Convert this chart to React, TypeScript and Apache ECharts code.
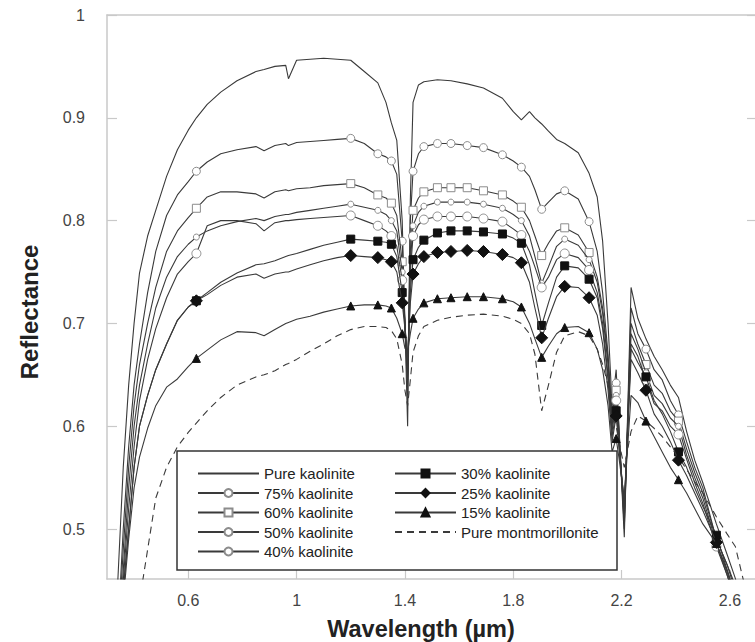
import React, { useEffect, useRef } from "react";
import * as echarts from "echarts";

// Wavelength grid (µm) shared by all spectra
const WAVELENGTHS = [
  0.34, 0.36, 0.38, 0.40, 0.42, 0.45, 0.48, 0.52, 0.56, 0.60,
  0.63, 0.67, 0.72, 0.78, 0.85, 0.88, 0.92, 0.96, 0.97, 1.0,
  1.05, 1.1, 1.15, 1.2, 1.25, 1.3, 1.33, 1.35, 1.37, 1.39,
  1.40, 1.41, 1.42, 1.43, 1.45, 1.47, 1.52, 1.57, 1.63, 1.69,
  1.76, 1.8, 1.83, 1.86, 1.88, 1.905, 1.93, 1.96, 1.99, 2.04,
  2.08, 2.11, 2.13, 2.15, 2.165, 2.18, 2.19, 2.21, 2.235, 2.26,
  2.29, 2.32, 2.35, 2.38, 2.41, 2.44, 2.47, 2.5, 2.55, 2.59,
  2.62, 2.65, 2.67,
];

// Wavelengths where the symbols of the mixture spectra are drawn
const MARKER_WAVELENGTHS = [
  0.63, 1.2, 1.3, 1.35, 1.39, 1.43, 1.47, 1.52, 1.57, 1.63, 1.69, 1.76,
  1.83, 1.905, 1.99, 2.08, 2.18, 2.29, 2.41, 2.55,
];

const PURE_KAOLINITE = [
  0.45, 0.56, 0.64, 0.70, 0.749, 0.785, 0.81, 0.843, 0.869, 0.888,
  0.90, 0.913, 0.925, 0.936, 0.945, 0.947, 0.95, 0.951, 0.938, 0.956,
  0.957, 0.958, 0.957, 0.956, 0.945, 0.934, 0.915, 0.895, 0.878, 0.80,
  0.70, 0.60, 0.82, 0.915, 0.932, 0.935, 0.937, 0.936, 0.933, 0.929,
  0.919, 0.906, 0.898, 0.906, 0.90, 0.894, 0.887, 0.879, 0.875, 0.866,
  0.846, 0.823, 0.78, 0.70, 0.62, 0.655, 0.60, 0.492, 0.735, 0.705,
  0.685, 0.668, 0.655, 0.64, 0.628, 0.595, 0.567, 0.545, 0.505, 0.475,
  0.452, 0.42, 0.40,
];
const KAOLINITE_75 = [
  0.40, 0.50, 0.58, 0.64, 0.68, 0.73, 0.77, 0.805, 0.825, 0.838,
  0.848, 0.857, 0.865, 0.869, 0.872, 0.868, 0.873, 0.875, 0.873, 0.876,
  0.877, 0.878, 0.879, 0.880, 0.875, 0.865, 0.862, 0.858, 0.845, 0.78,
  0.70, 0.63, 0.80, 0.848, 0.865, 0.872, 0.875, 0.875, 0.873, 0.871,
  0.864, 0.858, 0.852, 0.843, 0.83, 0.811, 0.818, 0.826, 0.829, 0.821,
  0.799, 0.77, 0.73, 0.67, 0.61, 0.642, 0.60, 0.50, 0.715, 0.69,
  0.675, 0.655, 0.645, 0.625, 0.611, 0.585, 0.56, 0.54, 0.49, 0.465,
  0.445, 0.41, 0.39,
];
const KAOLINITE_60 = [
  0.39, 0.48, 0.56, 0.62, 0.66, 0.70, 0.735, 0.77, 0.79, 0.803,
  0.812, 0.823, 0.828, 0.828, 0.826, 0.822, 0.828, 0.83, 0.829, 0.831,
  0.832, 0.834, 0.835, 0.836, 0.832, 0.825, 0.822, 0.817, 0.805, 0.76,
  0.70, 0.645, 0.77, 0.81, 0.822, 0.828, 0.832, 0.832, 0.832, 0.829,
  0.825, 0.819, 0.813, 0.80, 0.785, 0.766, 0.778, 0.79, 0.793, 0.786,
  0.769, 0.745, 0.715, 0.665, 0.605, 0.635, 0.595, 0.505, 0.70, 0.68,
  0.66, 0.64, 0.632, 0.615, 0.605, 0.578, 0.555, 0.535, 0.49, 0.465,
  0.44, 0.41, 0.39,
];
const KAOLINITE_50 = [
  0.38, 0.46, 0.54, 0.60, 0.64, 0.68, 0.715, 0.745, 0.765, 0.777,
  0.784, 0.79, 0.795, 0.799, 0.802, 0.80, 0.804, 0.806, 0.806, 0.808,
  0.81, 0.812, 0.814, 0.816, 0.813, 0.81, 0.806, 0.80, 0.79, 0.75,
  0.70, 0.65, 0.76, 0.795, 0.808, 0.814, 0.818, 0.818, 0.818, 0.816,
  0.812, 0.806, 0.80, 0.785, 0.765, 0.739, 0.755, 0.775, 0.782, 0.776,
  0.762, 0.74, 0.71, 0.66, 0.60, 0.63, 0.59, 0.51, 0.69, 0.675,
  0.652, 0.63, 0.622, 0.608, 0.60, 0.572, 0.55, 0.53, 0.486, 0.46,
  0.435, 0.40, 0.38,
];
const KAOLINITE_40 = [
  0.37, 0.45, 0.52, 0.58, 0.625, 0.665, 0.695, 0.725, 0.748, 0.76,
  0.768, 0.795, 0.80, 0.80, 0.797, 0.79, 0.798, 0.80, 0.80, 0.801,
  0.802, 0.803, 0.804, 0.805, 0.80, 0.795, 0.79, 0.785, 0.775, 0.742,
  0.70, 0.655, 0.75, 0.785, 0.796, 0.801, 0.804, 0.804, 0.804, 0.802,
  0.799, 0.792, 0.786, 0.77, 0.755, 0.735, 0.745, 0.762, 0.768, 0.764,
  0.752, 0.73, 0.70, 0.65, 0.595, 0.625, 0.585, 0.515, 0.68, 0.668,
  0.645, 0.622, 0.615, 0.60, 0.592, 0.568, 0.545, 0.525, 0.483, 0.455,
  0.43, 0.40, 0.38,
];
const KAOLINITE_30 = [
  0.37, 0.44, 0.50, 0.56, 0.60, 0.63, 0.655, 0.68, 0.703, 0.716,
  0.722, 0.73, 0.74, 0.749, 0.757, 0.758, 0.761, 0.765, 0.766, 0.768,
  0.772, 0.776, 0.779, 0.782, 0.781, 0.78, 0.779, 0.777, 0.765, 0.73,
  0.70, 0.66, 0.73, 0.762, 0.774, 0.781, 0.788, 0.79, 0.79, 0.789,
  0.787, 0.783, 0.778, 0.757, 0.73, 0.698, 0.72, 0.745, 0.756, 0.754,
  0.743, 0.725, 0.695, 0.645, 0.59, 0.615, 0.585, 0.52, 0.675, 0.662,
  0.648, 0.625, 0.612, 0.595, 0.575, 0.56, 0.54, 0.522, 0.494, 0.46,
  0.435, 0.40, 0.38,
];
const KAOLINITE_25 = [
  0.37, 0.44, 0.50, 0.56, 0.60, 0.63, 0.655, 0.68, 0.703, 0.716,
  0.722, 0.728, 0.737, 0.745, 0.748, 0.744, 0.748, 0.75, 0.75, 0.753,
  0.757, 0.761, 0.764, 0.766, 0.765, 0.764, 0.762, 0.76, 0.75, 0.72,
  0.695, 0.665, 0.72, 0.748, 0.758, 0.765, 0.769, 0.77, 0.771, 0.77,
  0.767, 0.764, 0.759, 0.74, 0.715, 0.686, 0.705, 0.726, 0.736, 0.735,
  0.725, 0.708, 0.68, 0.635, 0.585, 0.61, 0.58, 0.525, 0.665, 0.652,
  0.635, 0.612, 0.60, 0.585, 0.567, 0.552, 0.535, 0.518, 0.487, 0.458,
  0.432, 0.40, 0.38,
];
const KAOLINITE_15 = [
  0.36, 0.43, 0.49, 0.54, 0.57, 0.598, 0.62, 0.638, 0.646, 0.658,
  0.666, 0.674, 0.684, 0.692, 0.691, 0.688, 0.694, 0.70, 0.701, 0.704,
  0.707, 0.711, 0.714, 0.717, 0.718, 0.718, 0.717, 0.715, 0.705, 0.69,
  0.676, 0.672, 0.69, 0.705, 0.714, 0.72, 0.724, 0.725, 0.726, 0.726,
  0.724, 0.721, 0.716, 0.70, 0.685, 0.667, 0.678, 0.69, 0.696, 0.697,
  0.691, 0.675, 0.655, 0.62, 0.575, 0.588, 0.57, 0.53, 0.63, 0.623,
  0.605, 0.59, 0.575, 0.56, 0.548, 0.535, 0.52, 0.505, 0.486, 0.455,
  0.43, 0.40, 0.38,
];
const PURE_MONTMORILLONITE = [
  0.30, 0.32, 0.34, 0.37, 0.43, 0.48, 0.53, 0.56, 0.58, 0.594,
  0.603, 0.615, 0.628, 0.64, 0.648, 0.65, 0.654, 0.66, 0.661, 0.665,
  0.673, 0.68, 0.688, 0.694, 0.697, 0.697, 0.696, 0.693, 0.685, 0.66,
  0.635, 0.62, 0.645, 0.672, 0.688, 0.697, 0.703, 0.706, 0.708, 0.709,
  0.707, 0.704, 0.70, 0.69, 0.67, 0.615, 0.64, 0.672, 0.688, 0.692,
  0.688, 0.675, 0.66, 0.64, 0.62, 0.60, 0.585, 0.56, 0.595, 0.61,
  0.605, 0.598, 0.59, 0.58, 0.57, 0.558, 0.546, 0.535, 0.512, 0.495,
  0.483, 0.45, 0.42,
];

const X_TICKS = [0.6, 1, 1.4, 1.8, 2.2, 2.6];
const Y_TICKS = [0.5, 0.6, 0.7, 0.8, 0.9, 1];

const LEGEND_LEFT = ["Pure kaolinite", "75% kaolinite", "60% kaolinite", "50% kaolinite", "40% kaolinite"];
const LEGEND_RIGHT = ["30% kaolinite", "25% kaolinite", "15% kaolinite", "Pure montmorillonite"];
const LINE_ONLY = ["Pure kaolinite", "Pure montmorillonite"];

const FONT = "'Liberation Sans', Arial, Helvetica, sans-serif";
const LINE = "#3a3a3a";
const AXIS = "#c9c9c9";

type Spec = {
  name: string;
  values: number[];
  symbol: string;
  size: number;
  fill: string;
  stroke: string;
  dashed?: boolean;
};

const SPECS: Spec[] = [
  { name: "Pure montmorillonite", values: PURE_MONTMORILLONITE, symbol: "none", size: 0, fill: LINE, stroke: LINE, dashed: true },
  { name: "Pure kaolinite", values: PURE_KAOLINITE, symbol: "none", size: 0, fill: LINE, stroke: LINE },
  { name: "75% kaolinite", values: KAOLINITE_75, symbol: "circle", size: 8, fill: "#ffffff", stroke: "#8c8c8c" },
  { name: "60% kaolinite", values: KAOLINITE_60, symbol: "rect", size: 8, fill: "#ffffff", stroke: "#8c8c8c" },
  { name: "50% kaolinite", values: KAOLINITE_50, symbol: "circle", size: 6, fill: "#ffffff", stroke: "#8c8c8c" },
  { name: "40% kaolinite", values: KAOLINITE_40, symbol: "circle", size: 9, fill: "#ffffff", stroke: "#8c8c8c" },
  { name: "30% kaolinite", values: KAOLINITE_30, symbol: "rect", size: 8, fill: "#111111", stroke: "#111111" },
  { name: "25% kaolinite", values: KAOLINITE_25, symbol: "diamond", size: 12, fill: "#111111", stroke: "#111111" },
  { name: "15% kaolinite", values: KAOLINITE_15, symbol: "triangle", size: 8, fill: "#111111", stroke: "#111111" },
];

const fmt = (v: number) => String(parseFloat(Number(v).toFixed(2)));

const legendData = (names: string[]) =>
  names.map((n) => (LINE_ONLY.includes(n) ? { name: n, itemStyle: { opacity: 0 } } : { name: n }));

export default function App() {
  const ref = useRef<HTMLDivElement>(null);

  useEffect(() => {
    if (!ref.current) return;
    const chart = echarts.init(ref.current, undefined, { renderer: "svg" });

    const series = SPECS.map((s, i) => ({
      type: "line",
      name: s.name,
      z: 2 + i * 0.01,
      symbol: s.symbol,
      symbolSize: s.size,
      showSymbol: s.symbol !== "none",
      showAllSymbol: true,
      clip: true,
      lineStyle: {
        color: LINE,
        width: 1.1,
        type: s.dashed ? [7, 5] : "solid",
      },
      itemStyle: { color: s.fill, borderColor: s.stroke, borderWidth: 1 },
      emphasis: { disabled: true },
      data: WAVELENGTHS.map((w, j) => {
        const isMarker = s.symbol !== "none" && MARKER_WAVELENGTHS.includes(w);
        return isMarker ? { value: [w, s.values[j]] } : { value: [w, s.values[j]], symbol: "none" };
      }),
    }));

    const legendCommon = {
      orient: "vertical",
      selectedMode: false,
      itemWidth: 61,
      itemHeight: 10,
      itemGap: 4.5,
      z: 20,
      textStyle: { fontFamily: FONT, fontSize: 15, color: "#222" },
    };

    const option: any = {
      animation: false,
      backgroundColor: "#ffffff",
      grid: {
        left: 107,
        top: 15,
        right: -2,
        bottom: 63,
        containLabel: false,
        outerBoundsMode: "none",
      },
      xAxis: [
        {
          type: "value",
          min: 0.3,
          max: 2.7,
          position: "bottom",
          name: "Wavelength (µm)",
          nameLocation: "middle",
          nameGap: 38,
          nameTextStyle: {
            fontFamily: FONT,
            fontSize: 23.5,
            fontWeight: "bold",
            color: "#222",
            padding: [0, 22, 0, 0],
          },
          axisLine: { show: true, lineStyle: { color: AXIS, width: 1.5 } },
          axisTick: { show: true, inside: true, length: 9, customValues: X_TICKS, lineStyle: { color: AXIS, width: 1.2 } },
          axisLabel: {
            show: true,
            customValues: X_TICKS,
            margin: 13,
            fontFamily: FONT,
            fontSize: 16,
            color: "#444",
            formatter: (v: number) => fmt(v),
          },
          splitLine: { show: false },
        },
        {
          type: "value",
          min: 0.3,
          max: 2.7,
          position: "top",
          axisLine: { show: true, lineStyle: { color: AXIS, width: 1.5 } },
          axisTick: { show: false },
          axisLabel: { show: false },
          splitLine: { show: false },
        },
      ],
      yAxis: [
        {
          type: "value",
          min: 0.4514,
          max: 1,
          position: "left",
          name: "Reflectance",
          nameLocation: "middle",
          nameRotate: 90,
          nameGap: 66,
          nameTextStyle: {
            fontFamily: FONT,
            fontSize: 24,
            fontWeight: "bold",
            color: "#222",
            padding: [0, 30, 0, 0],
          },
          axisLine: { show: true, lineStyle: { color: AXIS, width: 1.5 } },
          axisTick: { show: true, inside: true, length: 10, customValues: Y_TICKS, lineStyle: { color: AXIS, width: 1.2 } },
          axisLabel: {
            show: true,
            customValues: Y_TICKS,
            margin: 22,
            fontFamily: FONT,
            fontSize: 16,
            color: "#444",
            formatter: (v: number) => fmt(v),
          },
          splitLine: { show: false },
        },
        {
          type: "value",
          min: 0.4514,
          max: 1,
          position: "right",
          axisLine: { show: true, lineStyle: { color: AXIS, width: 1.5 } },
          axisTick: { show: true, inside: true, length: 10, customValues: Y_TICKS, lineStyle: { color: AXIS, width: 1.2 } },
          axisLabel: { show: false },
          splitLine: { show: false },
        },
      ],
      legend: [
        { ...legendCommon, left: 192, top: 461, data: legendData(LEGEND_LEFT) },
        { ...legendCommon, left: 389, top: 461, data: legendData(LEGEND_RIGHT) },
      ],
      graphic: [
        {
          type: "rect",
          z: 15,
          shape: { x: 177, y: 451, width: 440, height: 119 },
          style: { fill: "#ffffff", stroke: "#333333", lineWidth: 1.5 },
        },
      ],
      series,
    };

    chart.setOption(option);
    return () => chart.dispose();
  }, []);

  return (
    <div
      ref={ref}
      style={{ position: "absolute", left: 0, top: 0, width: 755, height: 642 }}
    />
  );
}
